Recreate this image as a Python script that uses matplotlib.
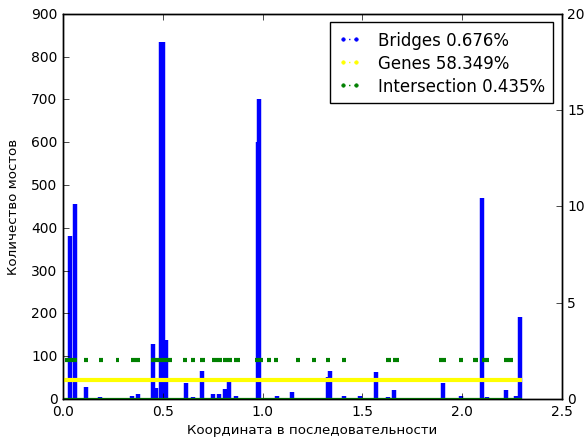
import matplotlib
matplotlib.use('Agg')
import matplotlib.pyplot as plt
from matplotlib.lines import Line2D

# bridge positions along the sequence and bridge counts
bridge_x = [0.035, 0.06, 0.115, 0.185, 0.265, 0.345, 0.375, 0.45, 0.465, 0.49, 0.50, 0.515,
            0.616, 0.652, 0.696, 0.75, 0.78, 0.81, 0.83, 0.865, 0.92, 0.975, 0.98, 1.03, 1.07,
            1.15, 1.18, 1.27, 1.33, 1.34, 1.41, 1.49, 1.57, 1.63, 1.66,
            1.905, 1.995, 2.065, 2.10, 2.125, 2.22, 2.25, 2.27, 2.29]
bridge_y = [380, 455, 29, 5, 3, 8, 12, 128, 25, 835, 835, 138,
            37, 4, 65, 12, 12, 23, 40, 7, 3, 600, 702, 2, 8,
            16, 2, 3, 51, 65, 7, 8, 63, 5, 22,
            37, 7, 3, 470, 4, 22, 3, 6, 192]

# gene region (right axis level 1) and intersection segments (right axis level 2)
genes_range = [0.0, 2.3]
inter_start = [0.01, 0.105, 0.18, 0.265, 0.34, 0.44, 0.60, 0.64, 0.685, 0.745, 0.80, 0.855,
               0.96, 1.02, 1.055, 1.17, 1.25, 1.32, 1.40, 1.62, 1.655,
               1.885, 1.985, 2.055, 2.10, 2.21]
inter_end = [0.07, 0.125, 0.20, 0.28, 0.385, 0.545, 0.62, 0.66, 0.71, 0.795, 0.845, 0.885,
             1.0, 1.04, 1.075, 1.19, 1.27, 1.34, 1.42, 1.645, 1.685,
             1.92, 2.005, 2.08, 2.135, 2.255]

legend_labels = ['Bridges 0.676%', 'Genes 58.349%', 'Intersection 0.435%']

plt.style.use('classic')
plt.rcParams['font.size'] = 10

fig = plt.figure(figsize=(5.84, 4.39), dpi=100, facecolor='white')
ax = fig.add_axes([0.108, 0.089, 0.854, 0.877])
ax2 = ax.twinx()

ax.vlines(bridge_x, 0, bridge_y, colors='blue', linewidth=3.2)
ax.set_xlim(0, 2.5)
ax.set_ylim(0, 900)
ax.set_xlabel('Координата в последовательности', fontsize=9.6, labelpad=3)
ax.set_ylabel('Количество мостов', fontsize=9.6, labelpad=8)
ax.tick_params(labelsize=10)

ax2.hlines(0, genes_range[0], genes_range[1], colors='green', linewidth=1.6)
ax2.hlines(1, genes_range[0], genes_range[1], colors='yellow', linewidth=3)
ax2.hlines([2] * len(inter_start), inter_start, inter_end, colors='green', linewidth=3)
ax2.set_ylim(0, 20)
ax2.set_xlim(0, 2.5)
ax2.set_yticks([0, 5, 10, 15, 20])
ax2.tick_params(labelsize=10)

handles = [Line2D([], [], color='blue', linestyle=':', marker='.', markersize=5),
           Line2D([], [], color='yellow', linestyle=':', marker='.', markersize=5),
           Line2D([], [], color='green', linestyle=':', marker='.', markersize=5)]
ax2.legend(handles, legend_labels, loc='upper right', numpoints=2, fontsize=12,
           handlelength=1.4, handletextpad=1.0, borderpad=0.5,
           borderaxespad=0.5, labelspacing=0.3)

fig.savefig('out.png', dpi=100, facecolor='white')
